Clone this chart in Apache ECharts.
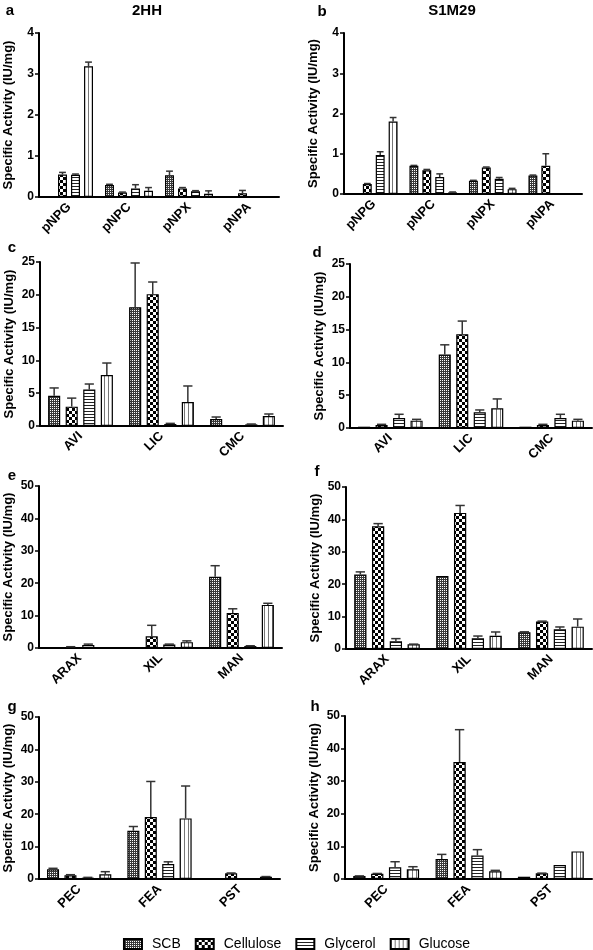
<!DOCTYPE html>
<html><head><meta charset="utf-8">
<script src="https://cdn.jsdelivr.net/npm/echarts@6/dist/echarts.min.js"></script>
<style>html,body{margin:0;padding:0;background:#fff}#c{width:593px;height:950px}</style>
</head><body><div id="c"></div>
<script>
// ---- DATA ----
const seriesNames = ['SCB', 'Cellulose', 'Glycerol', 'Glucose'];
const catsPNP = ['pNPG', 'pNPC', 'pNPX', 'pNPA'];
const catsCel = ['AVI', 'LIC', 'CMC'];
const catsHemi = ['ARAX', 'XIL', 'MAN'];
const catsPec = ['PEC', 'FEA', 'PST'];
const yTicksA = [0, 4, 1];   // min, max, interval
const yTicksC = [0, 25, 5];
const yTicksE = [0, 50, 10];

// rows: SCB, Cellulose, Glycerol, Glucose ; *_top = mean + SD (error bar top)
const a_mean = [[0, 0.29, 0.53, 0], [0.55, 0.11, 0.21, 0.09], [0.54, 0.21, 0.14, 0], [3.19, 0.15, 0.08, 0]];
const a_top  = [[0, 0.31, 0.63, 0], [0.60, 0.12, 0.23, 0.16], [0.56, 0.30, 0.155, 0], [3.29, 0.23, 0.15, 0]];
const b_mean = [[0, 0.70, 0.33, 0.46], [0.25, 0.59, 0.66, 0.70], [0.97, 0.42, 0.38, 0.02], [1.80, 0.04, 0.12, 0]];
const b_top  = [[0, 0.71, 0.34, 0.47], [0.26, 0.61, 0.67, 1.0], [1.05, 0.50, 0.41, 0.02], [1.90, 0.05, 0.14, 0]];
const c_mean = [[4.6, 18.1, 1.07], [2.95, 20.1, 0.15], [5.55, 0.3, 0.25], [7.77, 3.66, 1.52]];
const c_top  = [[5.8, 24.85, 1.37], [4.25, 21.95, 0.15], [6.4, 0.4, 0.3], [9.6, 6.1, 1.83]];
const d_mean = [[0.2, 11.2, 0.2], [0.46, 14.3, 0.46], [1.53, 2.39, 1.53], [1.12, 3.0, 1.12]];
const d_top  = [[0.2, 12.68, 0.2], [0.56, 16.3, 0.56], [2.09, 2.75, 2.09], [1.32, 4.43, 1.32]];
const e_mean = [[0.1, 0, 22.0], [0.3, 3.6, 10.8], [0.95, 1.1, 0.6], [0.05, 1.8, 13.3]];
const e_top  = [[0.1, 0, 25.4], [0.4, 7.0, 12.1], [1.2, 1.2, 0.7], [0.05, 2.2, 13.8]];
const f_mean = [[23.0, 22.5, 5.14], [37.9, 42.0, 8.5], [2.37, 3.3, 6.07], [1.44, 4.1, 6.9]];
const f_top  = [[23.8, 22.5, 5.3], [38.7, 44.3, 8.6], [3.2, 4.0, 6.8], [1.5, 5.25, 9.26]];
const g_mean = [[2.98, 14.9, 0.3], [1.13, 19.1, 1.75], [0.4, 4.6, 0], [1.44, 18.7, 0.7]];
const g_top  = [[3.3, 16.2, 0.3], [1.33, 30.1, 1.85], [0.5, 5.3, 0], [2.26, 28.7, 0.75]];
const h_mean = [[0.9, 6.1, 0.7], [1.63, 35.9, 1.73], [3.57, 7.2, 4.3], [2.96, 2.35, 8.47]];
const h_top  = [[0.95, 7.55, 0.7], [1.7, 45.8, 1.8], [5.3, 9.0, 4.3], [3.77, 2.65, 8.47]];

const panels = [
  {letter: 'a', cats: catsPNP, mean: a_mean, top: a_top, y: yTicksA, grid: {left: 39, top: 33, width: 240, height: 164}},
  {letter: 'b', cats: catsPNP, mean: b_mean, top: b_top, y: yTicksA, grid: {left: 344, top: 33, width: 238, height: 161}},
  {letter: 'c', cats: catsCel, mean: c_mean, top: c_top, y: yTicksC, grid: {left: 40, top: 262, width: 243, height: 164}},
  {letter: 'd', cats: catsCel, mean: d_mean, top: d_top, y: yTicksC, grid: {left: 350, top: 264, width: 242, height: 164}},
  {letter: 'e', cats: catsHemi, mean: e_mean, top: e_top, y: yTicksE, grid: {left: 39, top: 486, width: 243, height: 162}},
  {letter: 'f', cats: catsHemi, mean: f_mean, top: f_top, y: yTicksE, grid: {left: 346, top: 487, width: 246, height: 162}},
  {letter: 'g', cats: catsPec, mean: g_mean, top: g_top, y: yTicksE, grid: {left: 39, top: 717, width: 241, height: 162}},
  {letter: 'h', cats: catsPec, mean: h_mean, top: h_top, y: yTicksE, grid: {left: 345, top: 716, width: 247, height: 163}}
];

// ---- PATTERNS ----
function pat(kind) {
  const c = document.createElement('canvas');
  const x = c.getContext('2d');
  if (kind === 0) { // SCB fine dotted
    c.width = 2; c.height = 2;
    x.fillStyle = '#3a3a3a'; x.fillRect(0, 0, 2, 2);
    x.fillStyle = '#ffffff'; x.fillRect(0, 0, 1, 1);
  } else if (kind === 1) { // checkerboard
    c.width = 6; c.height = 6;
    x.fillStyle = '#ffffff'; x.fillRect(0, 0, 6, 6);
    x.fillStyle = '#000000'; x.fillRect(0, 0, 3, 3); x.fillRect(3, 3, 3, 3);
  } else if (kind === 2) { // horizontal lines
    c.width = 4; c.height = 3;
    x.fillStyle = '#ffffff'; x.fillRect(0, 0, 4, 3);
    x.fillStyle = '#222222'; x.fillRect(0, 0, 4, 1);
  } else { // vertical lines
    c.width = 4; c.height = 4;
    x.fillStyle = '#ffffff'; x.fillRect(0, 0, 4, 4);
    x.fillStyle = '#777777'; x.fillRect(0, 0, 1, 4);
  }
  return {image: c, repeat: 'repeat'};
}
const patterns = [pat(0), pat(1), pat(2), pat(3)];

const FONT = '"Liberation Sans", Arial, sans-serif';
const GAP = 0.45, CATGAP = 0.2;

const grids = [], xAxes = [], yAxes = [], series = [], graphics = [];
panels.forEach((p, pi) => {
  grids.push(Object.assign({containLabel: false}, p.grid));
  xAxes.push({
    type: 'category', gridIndex: pi, data: p.cats,
    axisLine: {lineStyle: {color: '#000', width: 2}},
    axisTick: {alignWithLabel: true, length: 5, lineStyle: {color: '#000', width: 1.5}},
    axisLabel: {rotate: 45, color: '#000', fontWeight: 'bold', fontSize: 13, fontFamily: FONT, margin: 8}
  });
  yAxes.push({
    type: 'value', gridIndex: pi, min: p.y[0], max: p.y[1], interval: p.y[2],
    name: 'Specific Activity (IU/mg)', nameLocation: 'middle', nameGap: 24,
    nameTextStyle: {color: '#000', fontWeight: 'bold', fontSize: 13, fontFamily: FONT},
    axisLine: {show: true, lineStyle: {color: '#000', width: 2}},
    axisTick: {show: true, length: 4, lineStyle: {color: '#000', width: 1.5}},
    axisLabel: {color: '#000', fontWeight: 'bold', fontSize: 12, fontFamily: FONT, margin: 5},
    splitLine: {show: false}
  });
  for (let s = 0; s < 4; s++) {
    series.push({
      type: 'bar', name: seriesNames[s], xAxisIndex: pi, yAxisIndex: pi,
      data: p.mean[s], barGap: (GAP * 100) + '%', barCategoryGap: (CATGAP * 100) + '%',
      itemStyle: {color: patterns[s], borderColor: '#000', borderWidth: 1.2},
      emphasis: {disabled: true}, animation: false, z: 2
    });
  }
  const errData = [];
  for (let s = 0; s < 4; s++) for (let k = 0; k < p.cats.length; k++) errData.push([k, s, p.mean[s][k], p.top[s][k]]);
  series.push({
    type: 'custom', xAxisIndex: pi, yAxisIndex: pi, data: errData, z: 5, silent: true, animation: false, clip: false,
    renderItem: function (params, api) {
      const k = api.value(0), s = api.value(1), m = api.value(2), t = api.value(3);
      if (!(t > m)) return null;
      const catW = api.size([1, 0])[0];
      const bw = catW * (1 - CATGAP) / (4 + 3 * GAP);
      const cx = api.coord([k, m])[0] + (s - 1.5) * bw * (1 + GAP);
      const y0 = api.coord([k, m])[1];
      const y1 = api.coord([k, t])[1];
      const cap = bw * 0.38;
      const st = {stroke: '#333', lineWidth: 1.5};
      return {type: 'group', children: [
        {type: 'line', shape: {x1: cx, y1: y0, x2: cx, y2: y1}, style: st},
        {type: 'line', shape: {x1: cx - cap, y1: y1, x2: cx + cap, y2: y1}, style: st}
      ]};
    }
  });
});

const letterPos = [[10, 11], [322, 12], [12, 248], [317, 253], [12, 476], [317, 472], [12, 707], [315, 707]];
panels.forEach((p, i) => {
  graphics.push({type: 'text', x: letterPos[i][0], y: letterPos[i][1],
    style: {text: p.letter, font: 'bold 15px ' + FONT, fill: '#000', textAlign: 'center', textVerticalAlign: 'middle'}});
});
graphics.push({type: 'text', x: 147, y: 11, style: {text: '2HH', font: 'bold 15px ' + FONT, fill: '#000', textAlign: 'center', textVerticalAlign: 'middle'}});
graphics.push({type: 'text', x: 452, y: 11, style: {text: 'S1M29', font: 'bold 15px ' + FONT, fill: '#000', textAlign: 'center', textVerticalAlign: 'middle'}});

const chart = echarts.init(document.getElementById('c'), null, {renderer: 'canvas'});
chart.setOption({
  animation: false,
  backgroundColor: '#fff',
  grid: grids, xAxis: xAxes, yAxis: yAxes, series: series, graphic: graphics,
  legend: {
    data: seriesNames, left: 'center', top: 932, icon: 'rect',
    itemWidth: 18, itemHeight: 10, itemGap: 14,
    textStyle: {color: '#000', fontSize: 14, fontFamily: FONT, padding: [0, 0, 0, 5]},
    selectedMode: false
  }
});
</script></body></html>
